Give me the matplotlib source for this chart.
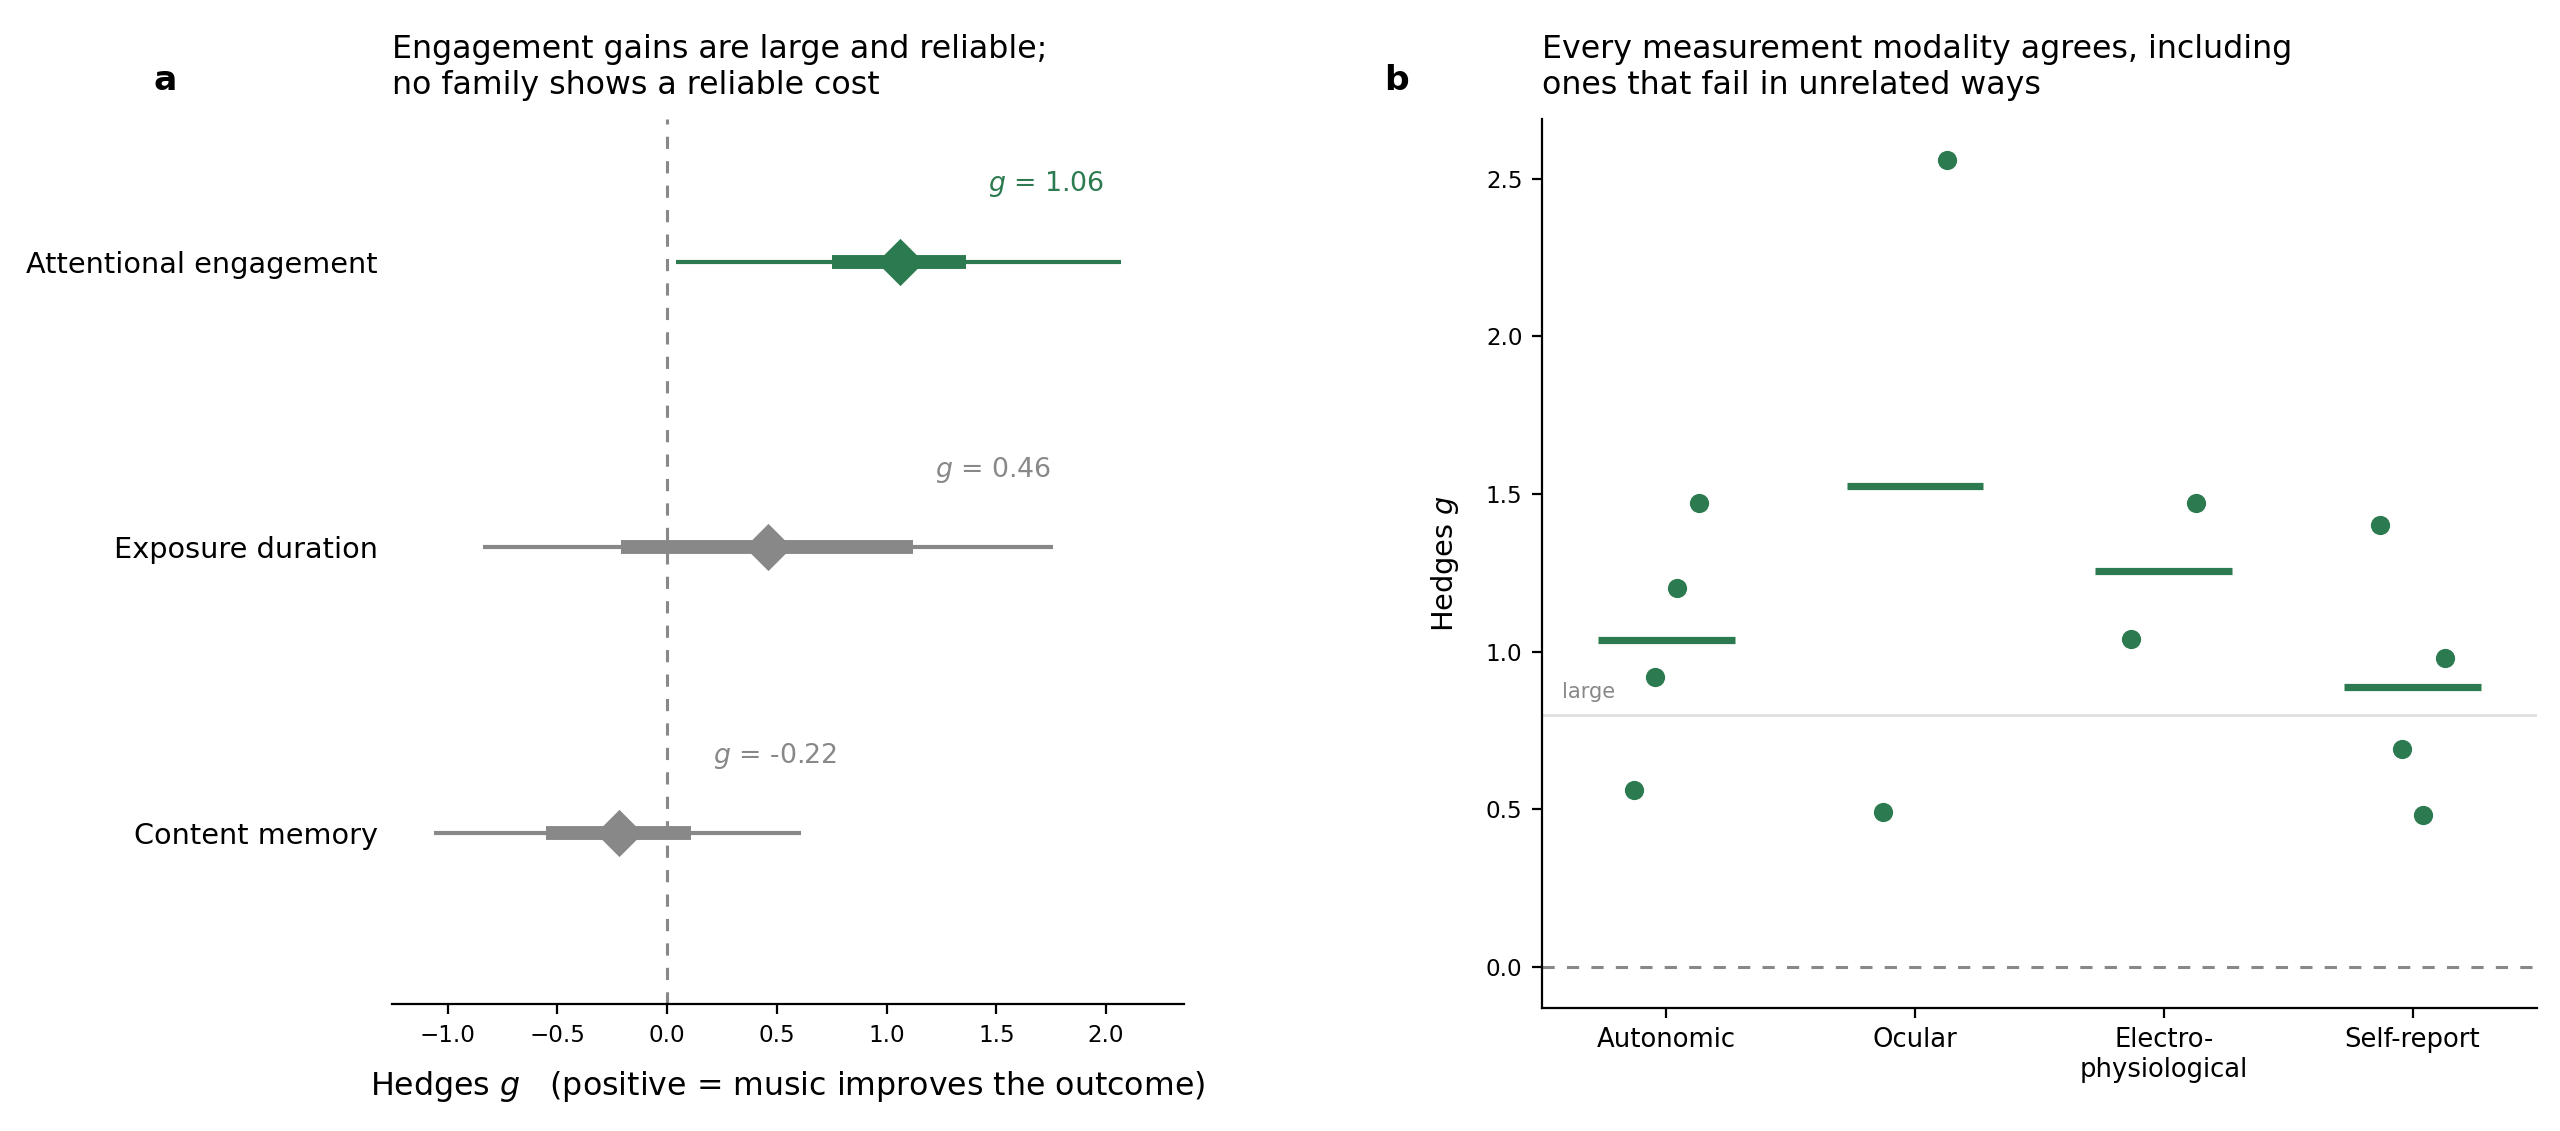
import matplotlib
matplotlib.use("Agg")
import matplotlib.pyplot as plt
import matplotlib.transforms as mtransforms
import numpy as np

plt.rcParams['font.family'] = ['DejaVu Sans']

GREEN = "#2c7a4f"
GREY = "#888888"
FS = 1.035  # font scale

# ---------------- Panel a data ----------------
families = ["Attentional engagement", "Exposure duration", "Content memory"]
family_g = [1.06, 0.46, -0.22]
ci95_lo = [0.04, -0.84, -1.06]
ci95_hi = [2.07, 1.76, 0.61]
ci50_lo = [0.75, -0.21, -0.55]
ci50_hi = [1.36, 1.12, 0.11]
family_reliable = [True, False, False]

# ---------------- Panel b data ----------------
modalities = ["Autonomic", "Ocular", "Electro-\nphysiological", "Self-report"]
modality_g = [
    [0.56, 0.92, 1.20, 1.47],
    [0.49, 2.56],
    [1.04, 1.47],
    [1.40, 0.69, 0.48, 0.98],
]
large_threshold = 0.8

fig = plt.figure(figsize=(12.8, 5.655), dpi=200)
axA = fig.add_axes([0.153, 0.112, 0.3095, 0.783])
axB = fig.add_axes([0.6023, 0.109, 0.3887, 0.786])

# ---- Panel a ----
diamond = [(0, 1), (1, 0), (0, -1), (-1, 0), (0, 1)]
for i, (g, lo, hi, l50, h50, rel) in enumerate(zip(family_g, ci95_lo, ci95_hi,
                                                    ci50_lo, ci50_hi, family_reliable)):
    c = GREEN if rel else GREY
    axA.plot([lo, hi], [i, i], color=c, lw=1.5, solid_capstyle='butt', zorder=2)
    axA.plot([l50, h50], [i, i], color=c, lw=5, solid_capstyle='butt', zorder=3)
    axA.plot([g], [i], marker=diamond, ms=17, color=c, mew=0, zorder=4)
    axA.text(h50 + 0.1, i - 0.27, f"$g$ = {g:.2f}", color=c, fontsize=9.3 * FS,
             ha='left', va='center')

axA.axvline(0, color=GREY, lw=1.1, ls=(0, (4, 4)), zorder=1)
axA.set_ylim(2.6, -0.5)
axA.set_xlim(-1.255, 2.355)
axA.set_yticks(range(len(families)))
axA.set_yticklabels(families, fontsize=10 * FS)
axA.tick_params(axis='y', length=0, pad=5)
axA.set_xticks(np.arange(-1.0, 2.01, 0.5))
axA.tick_params(axis='x', labelsize=8 * FS)
for s in ['top', 'right', 'left']:
    axA.spines[s].set_visible(False)
axA.set_xlabel("Hedges $g$   (positive = music improves the outcome)", fontsize=11 * FS,
               labelpad=8)
axA.set_title("Engagement gains are large and reliable;\nno family shows a reliable cost",
              loc='left', fontsize=11 * FS, pad=9)

# ---- Panel b ----
for i, vals in enumerate(modality_g):
    n = len(vals)
    offs = np.linspace(-0.13, 0.13, n)
    axB.scatter(i + offs, vals, s=48, color=GREEN, zorder=3, linewidths=0)
    m = np.mean(vals)
    axB.plot([i - 0.275, i + 0.275], [m, m], color=GREEN, lw=2.6,
             solid_capstyle='butt', zorder=2)

axB.axhline(0, color=GREY, lw=1.1, ls=(0, (4, 4)), zorder=1)
axB.axhline(large_threshold, color="#dddddd", lw=0.9, zorder=0)
trans = mtransforms.blended_transform_factory(axB.transAxes, axB.transData)
axB.text(0.02, large_threshold + 0.04, "large", transform=trans, fontsize=7.3 * FS,
         color=GREY, ha='left', va='bottom')
axB.set_xlim(-0.5, 3.5)
axB.set_ylim(-0.13, 2.69)
axB.set_xticks(range(len(modalities)))
axB.set_xticklabels(modalities, fontsize=9 * FS)
axB.set_yticks(np.arange(0, 2.51, 0.5))
axB.tick_params(axis='y', labelsize=8 * FS)
for s in ['top', 'right']:
    axB.spines[s].set_visible(False)
axB.set_ylabel("Hedges $g$", fontsize=10 * FS, labelpad=9)
axB.set_title("Every measurement modality agrees, including\nones that fail in unrelated ways",
              loc='left', fontsize=11 * FS, pad=9)

fig.text(0.0645, 0.929, "a", fontsize=12 * FS, fontweight='bold', ha='center', va='center')
fig.text(0.5455, 0.929, "b", fontsize=12 * FS, fontweight='bold', ha='center', va='center')

fig.savefig("out.png", dpi=200)
